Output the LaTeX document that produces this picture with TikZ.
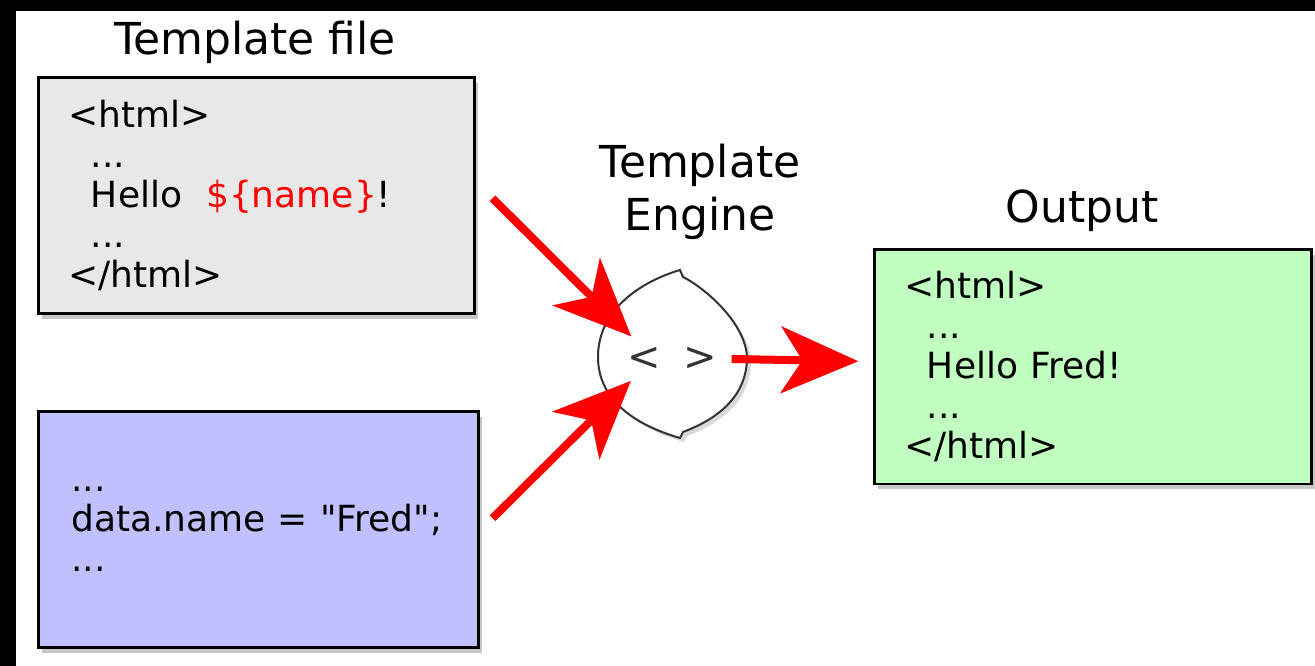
\documentclass[tikz,border=0pt]{standalone}
\usepackage{fontspec}
\setmainfont{DejaVu Sans}
\usetikzlibrary{arrows.meta,shadows}

\definecolor{boxgray}{RGB}{232,232,232}
\definecolor{boxblue}{RGB}{192,192,255}
\definecolor{boxgreen}{RGB}{192,255,192}
\definecolor{engred}{RGB}{255,0,0}

\begin{document}
\begin{tikzpicture}[x=0.75pt,y=0.75pt,yscale=-1,xscale=1,
		codebox/.style={draw=black,line width=1.9pt,inner xsep=22.5pt,inner ysep=0pt,align=left,anchor=north west,minimum height=177pt,font=\fontsize{27}{30}\selectfont,drop shadow={shadow xshift=3pt,shadow yshift=-4pt,fill=black,opacity=0.22}},
		title/.style={anchor=base,font=\fontsize{33}{41}\selectfont},
		flow/.style={draw=engred,line width=6pt,-{Stealth[length=58pt,width=50pt,inset=16pt]}}]
			\useasboundingbox (0,0) rectangle (1315,666);
			
			%Frame
			\fill[black] (0,0) rectangle (1315,666);
			\fill[white] (16,11) rectangle (1315,666);
			
			%Shape: Template box
			\node[codebox,fill=boxgray,text width=282pt] (tmpl) at (37,76) {<html>\\
				\hspace*{17pt}...\\
				\hspace*{17pt}Hello \ \textcolor{engred}{\$\{name\}}!\\
				\hspace*{17pt}...\\
				</html>};
			\node[title] (tmpltitle) at (255,55) {Template file};
			
			%Shape: Data box
			\node[codebox,fill=boxblue,inner xsep=24.75pt,text width=280.5pt] (data) at (37,410) {...\\
				\mbox{data.name = \textquotedbl Fred\textquotedbl;}\\
				...};
			
			%Shape: Output box
			\node[codebox,fill=boxgreen,text width=282.75pt,minimum height=176pt] (out) at (873,248) {<html>\\
				\hspace*{17pt}...\\
				\hspace*{17pt}Hello Fred!\\
				\hspace*{17pt}...\\
				</html>};
			\node[title] (outtitle) at (1082,223) {Output};
			
			%Shape: Engine
			\draw[line width=1.5pt,draw=black!80,fill=white,drop shadow={shadow xshift=3pt,shadow yshift=-3pt,fill=black,opacity=0.15}] (680,270) .. controls (640,282) and (598,310) .. (598,357) .. controls (598,400) and (635,425) .. (680,438) -- (683,432) .. controls (720,418) and (747,395) .. (747,357) .. controls (745,320) and (700,285) .. (683,277) -- cycle;
			\node[circle,minimum size=67.5pt,inner sep=0pt,text=black!80,font=\fontsize{30}{34}\selectfont] (engine) at (672,359) {<\hspace{17pt}>};
			\node[title] (engtitle) at (700,178) {Template};
			\node[title] (engtitle2) at (700,231) {Engine};
			
			%Straight Lines
			\draw[flow] ([xshift=12.75pt,yshift=2.25pt]tmpl.east) -- (engine.151);
			\draw[flow] ([xshift=9.75pt,yshift=-8.25pt]data.east) -- (engine.208);
			\draw[flow] ([xshift=9.75pt]engine.east) -- ([xshift=-11pt,yshift=-4pt]out.west);
		\end{tikzpicture}
\end{document}
